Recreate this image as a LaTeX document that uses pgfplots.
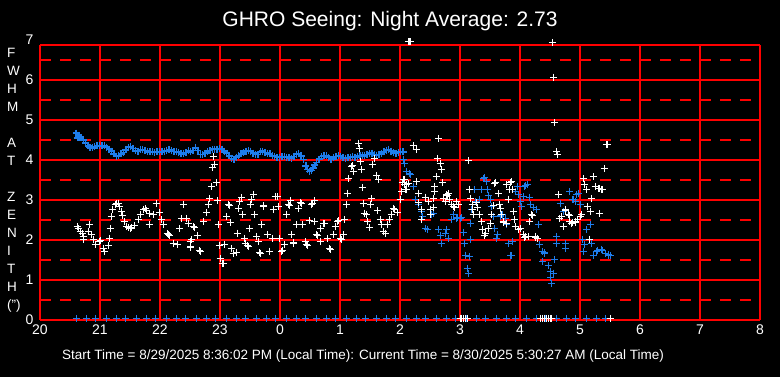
\documentclass[border=0pt]{standalone}
\usepackage{pgfplots}
\pgfplotsset{compat=1.18}
\usepackage{pgfplotstable}
\usepackage{fontspec}
\setmainfont{Liberation Sans}
\definecolor{ptblue}{RGB}{30,125,235}
\pgfplotstableread{
x y
20.60 4.67
20.62 4.55
20.65 4.57
20.68 4.55
20.72 4.50
20.76 4.42
20.80 4.36
20.83 4.32
20.87 4.30
20.91 4.33
20.95 4.36
20.99 4.36
21.03 4.35
21.07 4.36
21.11 4.32
21.15 4.27
21.19 4.22
21.23 4.15
21.27 4.09
21.31 4.10
21.35 4.15
21.39 4.18
21.43 4.25
21.47 4.31
21.51 4.33
21.55 4.28
21.59 4.23
21.63 4.22
21.67 4.25
21.71 4.26
21.75 4.24
21.79 4.21
21.83 4.20
21.87 4.20
21.91 4.19
21.95 4.20
21.99 4.21
22.03 4.20
22.07 4.22
22.11 4.24
22.15 4.26
22.19 4.24
22.23 4.21
22.27 4.20
22.31 4.18
22.35 4.15
22.39 4.15
22.43 4.19
22.47 4.23
22.51 4.20
22.55 4.24
22.59 4.30
22.63 4.24
22.67 4.14
22.71 4.13
22.75 4.17
22.79 4.20
22.83 4.23
22.87 4.26
22.91 4.27
22.95 4.27
22.99 4.28
23.03 4.27
23.07 4.22
23.11 4.17
23.15 4.10
23.19 4.04
23.23 4.02
23.27 4.07
23.31 4.11
23.35 4.15
23.39 4.18
23.43 4.22
23.47 4.24
23.51 4.22
23.55 4.17
23.59 4.14
23.63 4.13
23.67 4.20
23.71 4.22
23.75 4.19
23.79 4.16
23.83 4.15
23.87 4.11
23.91 4.08
23.95 4.06
23.99 4.07
24.03 4.09
24.07 4.08
24.11 4.07
24.15 4.05
24.19 4.04
24.23 4.09
24.27 4.14
24.31 4.15
24.35 4.10
24.39 4.01
24.43 3.85
24.46 3.76
24.49 3.71
24.52 3.73
24.55 3.80
24.58 3.87
24.61 3.93
24.65 4.02
24.69 4.08
24.73 4.11
24.77 4.10
24.81 4.06
24.85 4.02
24.89 4.06
24.93 4.09
24.97 4.11
25.01 4.08
25.05 4.05
25.09 4.04
25.13 4.05
25.17 4.07
25.21 4.08
25.25 4.06
25.29 4.09
25.33 4.11
25.37 4.12
25.41 4.10
25.45 4.13
25.49 4.15
25.53 4.17
25.57 4.14
25.61 4.12
25.65 4.14
25.69 4.16
25.73 4.20
25.77 4.24
25.81 4.26
25.85 4.22
25.89 4.18
25.93 4.17
25.97 4.19
26.01 4.20
26.05 4.20
}\bluetrend
\pgfplotstableread{
x y
26.06 4.02
26.08 3.90
26.10 3.71
26.16 3.65
26.18 3.63
26.22 3.33
26.25 3.00
26.31 2.88
26.36 2.71
26.38 2.58
26.43 2.29
26.45 2.27
26.53 2.63
26.55 2.67
26.64 2.25
26.67 2.10
26.69 1.90
26.75 2.17
26.78 2.25
26.81 2.04
26.85 2.50
26.89 2.63
26.94 2.54
26.96 2.56
27.00 2.54
27.02 2.55
27.06 2.19
27.08 1.90
27.09 1.62
27.16 1.58
27.12 1.29
27.14 1.15
27.17 2.00
27.18 2.42
27.19 2.75
27.24 3.25
27.25 2.96
27.33 3.00
27.36 3.25
27.39 3.54
27.40 3.56
27.44 3.46
27.45 3.25
27.47 3.10
27.50 3.00
27.53 2.83
27.56 2.58
27.58 2.29
27.60 2.04
27.62 2.13
27.67 2.58
27.68 2.60
27.71 2.63
27.75 2.54
27.77 2.38
27.81 1.92
27.84 1.62
27.85 1.60
27.88 1.96
27.92 3.21
27.96 3.33
27.97 3.13
28.00 2.96
28.03 2.83
28.06 3.08
28.08 3.33
28.09 3.35
28.12 3.38
28.16 3.07
28.18 2.88
28.23 2.82
28.28 2.77
28.31 2.38
28.33 1.88
28.38 1.71
28.40 1.67
28.41 1.69
28.38 1.46
28.47 1.35
28.50 1.21
28.51 1.07
28.53 0.92
28.56 1.17
28.57 1.50
28.61 2.08
28.61 1.90
28.67 2.92
28.72 2.71
28.75 1.90
28.76 1.79
28.83 3.21
28.88 3.00
28.89 3.02
28.92 2.96
28.94 3.13
28.97 3.15
28.98 3.17
29.00 2.88
29.04 2.00
29.05 1.71
29.08 1.88
29.11 2.25
29.17 2.38
29.19 1.92
29.22 1.60
29.28 1.71
29.29 1.73
29.36 1.75
29.37 1.73
29.42 1.67
29.47 1.62
29.48 1.64
29.50 1.60
}\bluescatter
\pgfplotstableread{
x y
20.60 0.04
20.77 0.04
20.93 0.04
21.10 0.04
21.27 0.04
21.43 0.04
21.60 0.04
21.77 0.04
21.93 0.04
22.10 0.04
22.27 0.04
22.43 0.04
22.60 0.04
22.77 0.04
22.93 0.04
23.10 0.04
23.27 0.04
23.43 0.04
23.60 0.04
23.77 0.04
23.93 0.04
24.10 0.04
24.27 0.04
24.43 0.04
24.60 0.04
24.77 0.04
24.93 0.04
25.10 0.04
25.27 0.04
25.43 0.04
25.60 0.04
25.77 0.04
25.93 0.04
26.10 0.04
26.27 0.04
26.43 0.04
26.60 0.04
26.77 0.04
26.93 0.04
27.10 0.04
27.27 0.04
27.43 0.04
27.60 0.04
27.77 0.04
27.93 0.04
28.10 0.04
28.27 0.04
28.43 0.04
28.60 0.04
28.77 0.04
28.93 0.04
29.10 0.04
29.27 0.04
29.43 0.04
}\bluebottom
\pgfplotstableread{
x y
20.62 2.33
20.64 2.28
20.67 2.22
20.70 2.15
20.72 2.08
20.73 2.00
20.81 2.22
20.83 2.38
20.86 2.13
20.89 2.00
20.92 1.88
20.99 1.97
21.01 1.99
21.06 1.79
21.08 1.71
21.14 1.86
21.16 2.04
21.17 2.29
21.19 2.58
21.21 2.75
21.25 2.88
21.28 2.90
21.31 2.92
21.33 2.83
21.36 2.71
21.37 2.61
21.40 2.46
21.44 2.33
21.48 2.30
21.50 2.29
21.53 2.31
21.58 2.36
21.64 2.50
21.67 2.63
21.73 2.76
21.75 2.78
21.77 2.74
21.83 2.67
21.82 2.38
21.89 2.63
21.94 2.90
21.99 2.69
22.03 2.50
22.06 2.39
22.12 2.15
22.14 2.13
22.16 2.10
22.22 1.92
22.29 1.88
22.33 2.28
22.39 2.88
22.36 2.54
22.44 2.54
22.47 2.42
22.50 1.96
22.51 1.83
22.55 2.33
22.57 2.31
22.53 2.00
22.50 1.81
22.62 2.11
22.66 1.73
22.68 1.70
22.73 2.46
22.78 2.69
22.81 2.88
22.83 3.03
22.86 3.33
22.89 4.08
22.90 3.89
22.88 3.82
22.94 3.44
22.96 2.98
22.97 2.38
22.99 1.86
23.00 1.54
23.04 1.42
23.05 1.40
23.07 1.89
23.11 2.58
23.14 2.88
23.15 2.86
23.17 2.44
23.19 1.79
23.22 1.67
23.23 1.65
23.28 1.69
23.29 2.17
23.31 2.79
23.33 2.96
23.36 3.06
23.38 2.64
23.40 2.04
23.42 1.92
23.46 1.86
23.47 1.84
23.49 2.29
23.51 2.88
23.53 3.00
23.56 3.14
23.57 2.64
23.61 2.08
23.64 1.97
23.66 1.69
23.67 1.67
23.69 2.39
23.72 2.83
23.73 2.85
23.79 2.13
23.82 1.72
23.83 1.70
23.88 2.03
23.89 2.75
23.92 3.08
23.96 3.08
23.97 2.83
23.99 2.04
24.03 1.71
24.04 1.73
24.08 1.89
24.11 2.63
24.14 2.88
24.15 2.86
24.17 2.98
24.19 2.13
24.22 1.94
24.23 1.92
24.28 2.39
24.31 2.79
24.34 2.94
24.35 2.92
24.38 2.39
24.42 1.96
24.44 1.89
24.45 1.87
24.49 2.48
24.53 2.88
24.54 2.90
24.57 2.98
24.58 2.46
24.61 2.13
24.62 2.10
24.67 1.96
24.68 2.29
24.73 2.42
24.74 2.40
24.79 2.04
24.83 1.78
24.84 1.76
24.89 2.14
24.92 2.33
24.96 2.46
24.97 2.48
25.01 2.03
25.02 2.01
25.05 2.13
25.07 2.50
25.11 2.88
25.12 3.17
25.14 3.53
25.19 3.83
25.20 3.85
25.22 3.71
25.31 4.42
25.32 4.29
25.34 3.96
25.35 3.75
25.37 3.31
25.39 2.92
25.40 2.67
25.44 2.63
25.46 2.46
25.49 2.31
25.51 2.88
25.53 3.03
25.54 3.88
25.57 4.04
25.61 3.61
25.64 3.50
25.63 2.73
25.67 2.50
25.69 2.38
25.72 2.22
25.73 2.20
25.75 2.17
25.79 2.38
25.82 2.50
25.85 2.63
25.89 2.79
25.90 2.77
25.96 2.69
26.00 3.00
26.03 3.21
26.04 3.44
26.08 3.50
26.11 3.39
26.11 3.25
26.22 4.35
26.27 4.25
26.64 4.54
26.62 4.04
26.67 3.90
26.69 3.75
26.60 3.58
26.71 3.43
27.14 3.98
26.06 3.50
26.08 3.38
26.14 3.42
26.09 3.27
26.28 3.46
26.31 3.17
26.31 2.93
26.00 3.02
26.36 2.75
26.36 2.52
26.43 3.07
26.47 2.96
26.50 2.75
26.51 2.63
26.56 3.04
26.56 2.82
26.58 3.33
26.58 3.21
26.72 3.04
26.75 2.96
26.78 3.13
26.79 3.11
26.80 3.15
26.83 3.02
26.86 2.88
26.89 2.83
26.90 2.81
26.94 2.96
26.97 2.88
27.16 3.27
27.18 3.04
27.20 2.88
27.21 2.75
27.22 2.63
27.27 2.93
27.29 2.82
27.33 2.63
27.36 2.46
27.38 2.25
27.40 2.10
27.41 2.12
27.43 2.17
27.47 2.29
27.50 2.40
27.53 2.63
27.56 2.85
27.58 3.42
27.59 3.44
27.64 3.15
27.66 2.88
27.69 2.63
27.72 2.46
27.73 2.44
27.78 2.42
27.80 3.02
27.83 3.25
27.78 3.38
27.84 3.43
27.85 3.46
27.88 3.25
27.89 2.71
27.67 2.79
27.90 2.52
27.92 2.33
27.97 2.25
27.98 2.27
28.01 2.29
28.06 2.13
28.08 2.07
28.09 2.09
28.14 2.08
28.19 2.63
28.20 2.61
28.16 2.46
28.25 2.08
28.26 2.06
28.29 2.04
28.57 4.93
28.61 4.21
28.62 4.13
28.54 6.94
28.56 6.07
29.44 4.38
29.45 4.38
29.40 3.79
29.22 3.58
29.06 3.54
29.08 3.38
29.11 3.25
29.25 3.33
29.31 3.29
29.32 3.29
29.36 3.25
29.37 3.25
29.19 3.04
29.12 2.83
29.17 2.71
29.32 2.65
29.16 2.02
28.64 3.13
28.65 2.54
28.69 2.58
28.72 2.33
28.75 2.75
28.76 2.73
28.81 2.63
28.82 2.61
28.83 2.46
28.86 2.42
28.87 2.44
28.92 2.43
28.93 2.45
28.96 2.50
29.00 2.58
29.03 2.63
26.14 6.95
26.16 6.95
26.18 6.95
27.00 0.04
27.03 0.04
27.06 0.04
27.09 0.04
27.12 0.04
28.34 0.04
28.38 0.04
28.41 0.04
28.44 0.04
28.47 0.04
28.50 0.04
28.53 0.04
29.50 0.04
}\whitepts
\begin{document}
\begin{tikzpicture}[x=1pt,y=1pt]
\useasboundingbox (0,0) rectangle (780,377);
\fill[black] (0,0) rectangle (780,377);
\begin{axis}[
  at={(40pt,57pt)}, anchor=south west,
  width=720pt, height=275pt, scale only axis,
  xmin=20, xmax=32, ymin=0, ymax=6.875,
  clip=false,
  axis line style={draw=none},
  xtick={20,...,32},
  xticklabels={20,21,22,23,0,1,2,3,4,5,6,7,8},
  ytick={0,...,6},
  extra y ticks={6.875},
  extra y tick labels={7},
  extra y tick style={yticklabel style={yshift=5pt}},
  minor ytick={0.5,1.5,...,6.5},
  grid=both,
  major grid style={red, line width=1.3pt, solid},
  minor grid style={red, line width=1.3pt, dash pattern=on 11pt off 9pt},
  major tick length=0pt, minor tick length=0pt,
  tick style={draw=none},
  ticklabel style={white, font=\fontsize{14}{14}\selectfont},
  /pgf/number format/assume math mode=true,
  yticklabel style={xshift=-3pt},
  xticklabel style={yshift=-1.5pt},
]
\addplot[only marks, mark=+, mark size=3.5pt, ptblue, line width=1.4pt] table {\bluetrend};
\addplot[only marks, mark=+, mark size=3.5pt, ptblue, line width=1pt] table {\bluescatter};
\addplot[only marks, mark=+, mark size=3.5pt, ptblue, line width=1pt] table {\bluebottom};
\addplot[only marks, mark=+, mark size=3.5pt, white, line width=1pt] table {\whitepts};
\end{axis}
\node[anchor=base, white, font=\fontsize{21}{21}\selectfont] at (390,350) {GHRO Seeing: Night Average: 2.73};
\node[anchor=base, white, font=\fontsize{13.5}{13.5}\selectfont] at (363,17) {Start Time = 8/29/2025 8:36:02 PM (Local Time): Current Time = 8/30/2025 5:30:27 AM (Local Time)};
\foreach \l [count=\i] in {F,W,H,M,{},A,T,{},Z,E,N,I,T,H,(")} {
  \node[anchor=base west, white, inner sep=0pt, font=\fontsize{13.5}{13.5}\selectfont] at (7,{319-18*(\i-1)}) {\l};
}
\end{tikzpicture}
\end{document}
